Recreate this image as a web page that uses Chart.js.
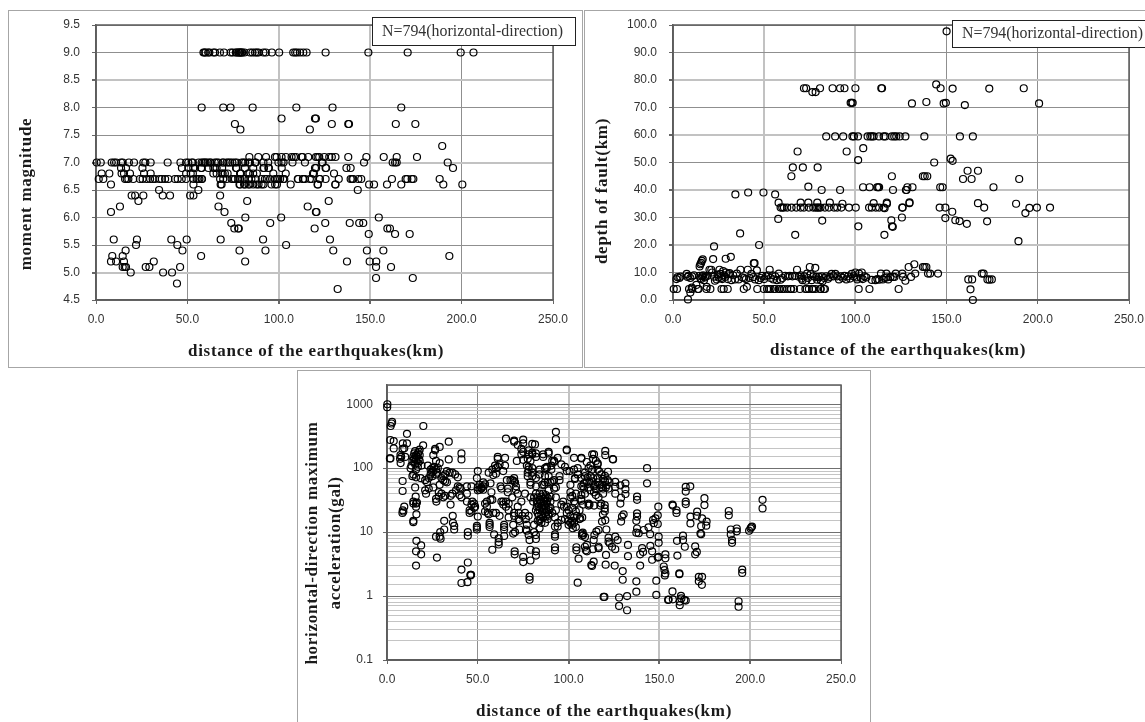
<!DOCTYPE html>
<html><head><meta charset="utf-8">
<style>
html,body{margin:0;padding:0;background:#fff;overflow:hidden;width:1145px;height:722px}
canvas{position:absolute;display:block}
.frame{position:absolute;border:1px solid #a6a6a6;box-sizing:border-box}
</style>
<script src="https://cdn.jsdelivr.net/npm/chart.js@4/dist/chart.umd.min.js"></script>
</head><body>
<div class="frame" style="left:8px;top:10px;width:575px;height:358px"></div>
<div class="frame" style="left:584px;top:10px;width:600px;height:358px"></div>
<div class="frame" style="left:297px;top:370px;width:574px;height:400px"></div>
<canvas id="c1" width="574" height="356" style="left:9px;top:11px"></canvas>
<canvas id="c2" width="560" height="356" style="left:585px;top:11px"></canvas>
<canvas id="c3" width="572" height="351" style="left:298px;top:371px"></canvas>
<script>
const xTitle = "distance of the earthquakes(km)";
const noteText = "N=794(horizontal-direction)";
const magTitle = ["moment magnitude"];
const depthTitle = ["depth of fault(km)"];
const accelTitle = ["horizontal-direction maximum","acceleration(gal)"];
const accelTicks = [0.1,1,10,100,1000];

// moment magnitude: distances (km) read for each magnitude level
const mag90=[58.8,59.4,60,61.4,62,64.2,65.1,67.8,70,73.7,74.8,76.5,77,77.9,78.3,78.8,79.2,79.7,80,81.2,84.3,85.6,87,88,88.9,91.6,92.9,96.2,100.2,107.9,109,110,111.6,113.4,115.2,125.6,149,170.5,199.5,206.5];
const mag80=[57.8,69.6,73.6,85.7,109.6,129.4,167];
const mag78=[101.5,119.8,120.3];
const mag77=[76,129,138,138.4,164,174.7];
const mag76=[79,117];
const mag73=[189.4];
const mag71=[83.9,88.8,93,97.9,98.8,101.5,103.9,107,108.3,109.4,112.5,113,116.1,120.3,121.2,122.1,124.9,127.6,129,131,138,147.9,157.4,164.5,175.6];
const mag70=[0.4,2.6,8.6,9.9,11,13.7,14.6,18,20.8,25.9,27,29.9,39.2,46.2,49.3,50.5,52.4,53,56.2,57.8,58.6,59.5,60,61,62.3,62.8,65,66,66.9,69.3,69.6,71.5,72.4,73.4,74.6,76,77,79.7,80.6,81.6,83.4,84.2,87,87.4,91.6,94.2,99.8,101.5,102.6,107.5,114.3,123.6,124,146.6,162.3,163.6,164.5,192.4];
const mag69=[13.7,16.4,25.4,47,50.5,53.2,54.2,57.5,57.8,61.5,64.2,65,66,69,76.6,76.9,81.5,86,91.6,91.9,94.3,94.6,101.6,119.8,120.4,125.6,125.9,137,139.3,195.3];
const mag68=[3.1,7.3,14,15.3,18.6,26.3,29.9,49.3,51.8,53,64.2,66,68.7,69.3,70.5,72,78.8,79.2,83.3,84,86,88,97,103.8,118.7,119.2,130.2];
const mag67=[1.5,4,15.9,16.8,17.7,20.4,24,25.5,27.7,29.6,31,32.3,34.7,36,37.8,39.6,43.2,44.7,46.9,49.3,53.3,55.1,56,56.6,57.8,58,67.9,69.6,71.5,74.2,75.2,76,77.9,78.8,80.7,81.5,83.4,85,87.4,90.7,92.4,93.4,95.2,97.9,98.9,99.7,100.7,102.4,103,110.4,110.6,113.2,113.4,114.3,117,118,122.5,122.3,125.6,132.8,139.3,140.2,140.7,143.5,145.1,161.9,169.4,170.3,172.7,173.6,188];
const mag66=[8.2,53.3,68.2,68.7,78.5,78.8,81,81.5,83.4,84,86,87.9,88.9,90.6,91.6,96,98,99,106.5,121.2,121.4,130.9,131,149.4,152.1,159.2,167,190,200.4];
const mag65=[34.5,56,143.2];
const mag64=[19.5,21.4,25.9,36.5,40.5,51.5,53.3,67.9];
const mag63=[23.2,82.7,127.3];
const mag62=[13.1,67,115.8];
const mag61=[8.2,70.3,120.3,120.6];
const mag60=[81.7,101.3,154.7];
const mag59=[74,95.3,125.4,138.8,144,146.2];
const mag58=[75.7,77.8,78.1,119.6,159.4,160.8];
const mag57=[149.2,163.6,171.6];
const mag56=[9.7,22.4,41.2,49.6,68.2,91.4,128];
const mag55=[21.9,44.5,104];
const mag54=[16.2,47.3,78.5,92.7,129.8,148.2,157.2];
const mag53=[8.9,14.6,57.5,193.3];
const mag52=[8.2,11,15.3,31.6,81.6,137.3,149.7,153.3];
const mag51=[14.6,15.7,16.4,27.2,29.2,46,153.2,161.4];
const mag50=[19,36.7,41.6];
const mag49=[153.2,173.3];
const mag48=[44.3];
const mag47=[132.2];

// depth of fault: [distance km, depth km]
const depthDeep=[[71.8,77],[73,77],[76.4,75.6],[78.2,75.6],[80.6,77],[87.5,77],[91.6,77],[94,77],[100,77],[114.2,77],[114.6,77],[144.3,78.4],[146.7,77],[153.3,76.9],[173.4,76.9],[192.3,77],[97.4,71.7],[97.9,71.7],[98.5,71.7],[131,71.5],[138.9,72],[148.4,71.5],[149.6,71.7],[200.7,71.5],[160,70.9],[150,97.7],
[84,59.5],[88.9,59.5],[93.3,59.5],[98.4,59.5],[99.2,59.5],[101.4,59.5],[106.7,59.5],[108.2,59.5],[109.1,59.5],[110,59.5],[112.9,59.5],[115.5,59.5],[116.4,59.5],[120,59.5],[121.3,59.5],[122.4,59.5],[124.3,59.5],[127.4,59.5],[137.8,59.5],[157.3,59.5],[164.4,59.5]];
const depthMid=[[68.3,54],[95.2,54],[104.3,55.2],[101.5,50.9],[143.2,50],[152.2,51.4],[153.3,50.6],[64.9,45],[65.7,48.2],[71.2,48.2],[79.3,48.2],[120,45],[137,45],[138,45],[139.4,45],[161.5,47],[167.2,47],[159,44],[163.7,44],[189.8,44],[34.2,38.4],[41.2,39.1],[49.6,39.1],[56,38.4],[74.2,41.2],[104.2,41],[107.8,41],[111.9,41],[112.5,41],[113,41],[120.6,40],[128,40],[128.5,41],[131.3,41],[146.5,41],[147.8,41],[175.7,41],[81.5,40],[91.6,40],[127.7,40],
[57.9,35.4],[70,35.4],[74.2,35.4],[79.1,35.4],[86,35.4],[92.9,35],[110,35.2],[117.3,35],[129.6,35.2],[129.7,35.5],[117.2,35.4],
[59,33.6],[59.9,33.6],[60.8,33.6],[62.6,33.6],[65,33.6],[67.6,33.6],[70,33.6],[71.8,33.6],[74.5,33.6],[76.9,33.6],[78.2,33.6],[79.1,33.6],[80,33.6],[80.9,33.6],[83.3,33.6],[85.5,33.6],[88.3,33.6],[90,33.6],[92.3,33.6],[96.5,33.6],[100.2,33.6],[107.5,33.6],[109,33.6],[111.2,33.6],[113,33.6],[115.5,33.6],[116,33.4],[125.7,33.6],[125.9,33.6],[146.2,33.6],[149.3,33.6],[153.1,32.1],[167.2,35.2],[188.1,35],[170.6,33.6],[193.2,31.6],[195.4,33.5],[199.5,33.6],[206.7,33.6],
[57.7,29.5],[81.8,28.9],[119.7,29],[125.5,30],[149.3,29.8],[154.8,29],[157.1,28.7],[161.1,27.7],[172.2,28.6],[101.6,26.8],[120.1,26.8],[120.5,26.6],[67,23.7],[115.9,23.7],[189.4,21.4],[36.8,24.2],[47.2,20],[22.5,19.5],[16.3,14.8],[22,14.9],[28.9,15],[31.7,15.7],[15.8,14.2],[15.4,13.5],[15,13],[14.6,12.2],[44.3,13.4],[44.7,13.4]];
const depthLow=[[0.4,4],[2.2,4],[8.8,4],[10.6,4],[13.6,4],[14,4],[18.3,4],[20.5,4],[26.6,4],[27.8,4],[30,4],[38.8,4],[46.2,4],[49.8,4],[51.6,4],[52.6,4],[53.5,4],[55.3,4],[55.9,4],[58,4],[58.6,4],[59.9,4],[60.8,4],[62.6,4],[64.5,4],[64.8,4],[66.3,4],[69.6,4],[72.6,4],[73.3,4],[74.5,4],[76.3,4],[76.9,4],[78.2,4],[80.8,4],[81,4],[82.7,4],[83.3,4],[101.8,4],[107.7,4],[123.7,4],[8.2,0.2],[9.5,2.7],[10.3,4.5],[164.4,0],[163.1,3.9],[161.9,7.5],[164,7.5],[172.4,7.5],[173.5,7.4],[174.8,7.5],[169.3,9.6],[170.3,9.6],[127.4,7],[117,9.6],[122.1,9.6],[125.7,9.6],[132.8,9.6],[139.8,9.6],[141,9.6],[145.3,9.6],[129.2,12],[132.3,13],[137,12],[137.9,12],[138.9,12],[119.2,8.4],[120.6,8.4],[121.4,8.4],[130.5,8.4],[126.1,8.4],[40.5,4.8],[18.5,4.8],[12.8,5.5],
[1.9,7.6],[2.5,8.3],[3.5,8],[4,8.5],[7.5,9.5],[8,8.4],[8.5,8.8],[9.5,8],[10.5,8.6],[11.5,9],[14.5,8.8],[15,8],[15.5,7.6],[16,8.7],[16.5,9],[17,7.2],[17.5,8.2],[18,8.6],[19,8.8],[20,11],[21,11],[21.5,10],[22.5,8.5],[23,7],[24,7.5],[24.5,9.2],[25,8.2],[25.5,11],[26,9.5],[26.5,8],[27,7.6],[27.5,10.5],[28,9],[28.5,8.4],[29,10],[30,7.6],[30.5,9.4],[31,9.8],[32,7.2],[33,9],[34,7.5],[35,9.6],[36,7.5],[37,11],[38,8.2],[39,8],[40,7.6],[41,11],[42,8],[43,9.5],[44,8.3],[45,7.5],[46,10.8],[47,7.2],[48,8],[49,8.8],[50,7.6],[51,8.6],[52,9],[53,11],[53.5,8],[54.5,9],[55,7.5],[56,8.6],[57,7.2],[58,9.6],[59,7.4],[60,8],[61.5,8.8],[63,8.6],[64,8.8],[65.5,8.6],[67,8.8],[68,11],[69,8.5],[70,9],[70.5,7.8],[71,7.2],[72,8.6],[73,7],[73.5,9.6],[74,8],[75,12],[75.5,9.4],[76,7.2],[77,8.6],[78,11.7],[78.5,8.4],[79,7.4],[80,8.4],[81,7.2],[81.5,8.6],[82,6.8],[83,8],[84,8.6],[85,7.7],[86,8.4],[87,9.5],[88,8.6],[89,9.5],[90,8.6],[91,7.5],[92,8.6],[93,8],[94,8.8],[95,7.5],[96,8.6],[97,7.8],[98,9.5],[99,8.6],[100,10],[100.5,8.2],[101,7.5],[102,9.6],[103,8],[103.5,10],[104,7.6],[105,8.6],[106,8.2],[109,7.3],[111,7.2],[112,7.6],[113,7.4],[114,9.6],[115,7.5],[116,8],[117,8.2],[118,7.5]];

// horizontal-direction maximum acceleration: [distance km, gal]
const accelNear=[[0.2,1000],[0.1,900],[2.8,530],[2.5,500],[2,457],[1.8,276],[3.7,265],[3.7,204],[1.6,142],[1.9,142],[7.4,160],[7.2,140],[7.5,120],[7.8,150],[8.6,63],[8.6,44],[9.5,25],[9,21],[8.5,20],[8.7,22],[8.6,200],[8.7,245],[9.5,205],[11,345],[11,245],[10,150],[20,457],[19.9,228],
[13,100],[13.5,110],[14,75],[14.5,80],[14,130],[14.5,150],[15,170],[15,125],[15,140],[15.5,115],[15.5,185],[16,160],[16,135],[16,95],[16,72],[16.5,150],[17,120],[17,170],[17,105],[17.5,140],[17.5,180],[18,130],[18,195],[18,160],[18.5,70],[19,110],
[14.5,30],[14.5,28],[14.5,15],[14.5,14.3],[15.5,50],[15.8,36],[16,28],[16,25],[16.5,29],[16.2,19],[16.2,7.3],[16,5],[16,3],[18.8,6.2],[18.8,4.5],
[21,65],[21,45],[21.5,40],[22,60],[22.5,110],[23,70],[23,48],[24,95],[24,80],[24.5,85],[25,100],[25,75],[25.5,90],[25.5,160],[25.5,50],[26,105],[26.5,200],[26.5,190],[27,130],[27,95],[27,80],[27.5,85],[27,33],[27.2,30],[27,8.5],[27.5,4],[28,100],[28.5,42],[28.5,36],[29,215],[29,120],[29,55],[29.3,10],[29,8.5],[29.5,7.9],[30,70],[30,40],[31,75],[31,65],[31,35],[32,80],[32,62],[32,37],[31.5,15],[31.5,11],[33,90],[33,60],[34,260],[34,137],[34.5,85],[35,37],[35,27],[36,85],[36,40],[36.2,18],[36.3,14],[37,12.5],[37,11],[37.5,80],[38,45],[39,72],[39,52],[40,50],[40,38],[40.5,48],[41,170],[41,137],[41,35],[41,2.6],[41,1.6],[44,52],[44,40],[44,30],[44.5,10],[44.5,8.8],[44.5,3.35],[44.3,1.65],[45.5,22],[45.5,20],[46,2.15],[46,2.1],[46.3,2.15],[46.5,52],[46.5,27],[46.5,21],[47,30],[48,28],[48,24],[48.5,25]];
const accelMid=[[49.5,70],[50,90],[50,50],[50,45],[50,17.5],[49.5,12.5],[49.5,11.8],[49.5,11],[51,55],[51,46],[52,50],[52,48],[53,60],[53,52],[53,46],[54,56],[54,28],[54,21],[55,30],[55,25],[55.5,20],[56,85],[56,19],[56.5,14],[56.5,13],[56.5,12],[57,32],[57,58],[57.5,42],[58,95],[58,32],[58,5.3],[58.5,78],[58.5,20],[59,9.2],[59.5,110],[60,100],[60,82],[60,20],[61,150],[61,140],[61,105],[62,115],[62,18],[61.5,8],[61.5,7],[61.5,6.4],[62.5,52],[63,48],[63,30],[64,90],[64,30],[64,27],[64.5,13],[64.5,12],[64.5,11],[64.5,8.7],[65,110],[65,145],[65.5,290],[65.5,30],[65.5,25],[66,65],[66.5,48],[66.5,42],[67,28],[67,22],[67,17],[68,65],[69,65],[69,35],[69.5,13],[69.5,9.5],[70,70],[70,270],[70,260],[70,63],[70.5,60],[70,20],[70,18],[70.5,10],[70.3,5],[70.3,4.5],[71,52],[71,46],[71.5,130],[72,230],[72,40],[72,25],[72.5,20],[72.5,16],[73,15],[73,11],[74,200],[74,165],[74,30],[74.5,18],[75,280],[75,245],[75,180],[75,135],[75,4.1],[75,3.4],[76,40],[76,20],[76.5,16],[76.5,11],[77,110],[77.5,140],[77.5,85],[77.5,75],[77,13],[77,10.5],[78,190],[78,165],[78,105],[78,95],[78,18],[78,9],[78.5,7.5],[78.5,2],[78.5,1.8],[79,130],[79,60],[79,55],[79,35],[79,3.6],[79,5.3],[80,240],[80,175],[80,165],[80,100],[80,85],[80,75],[80.5,30],[81,35],[81,13],[81,10],[81.5,235],[82,170],[82,150],[82,70],[82,52],[82,40],[82.5,25],[82,9],[82,7.8],[82,5],[82,4.3],
[82,22],[82.5,30],[83,20],[83,28],[83,35],[83,15],[83.5,25],[83.5,18],[84,32],[84,22],[84,40],[84,11.5],[84.5,28],[84.5,16],[85,24],[85,19],[85,30],[85,36],[85.5,26],[85.5,21],[86,33],[86,17],[86,28],[86,40],[86.5,23],[86.5,30],[87,20],[87,26],[87,14],[87,35],[87.5,38],[87.5,18],[87.5,24],[88,31],[88,21],[88,28],[88.5,16],[88.5,34],[89,25],[89,19],[89,22],[90,30],[90,24],[90,36],
[84,95],[84,80],[84,15],[85,14],[85.5,55],[86,165],[86,150],[86.5,55],[87,100],[87,60],[87,75],[88,105],[88,100],[88.5,60],[89,180],[89,170],[89,75],[89,45],[89,18],[90,60],[90.5,110],[90.5,95],[91,130],[91,62],[91,20],[92,125],[92,130],[92,65],[92,48],[92.5,17],[92.5,9.2],[92.5,8.5],[92.5,12.2],[92.5,5.8],[92.5,5.2],[93,370],[93,285],[93,50],[93,35],[93,22],[94,145],[94,14],[94,12.2],[95,75],[95,65],[96,115],[96,27],[96,15.5],[97,30],[97.5,25],[98,105],[98,16],[99,195],[99,190],[99,90],[99,25],[99,20],[100,22],[100,15],[100,13]];
const accelFar=[[100.5,90],[101,55],[101,42],[101,35],[101,18],[101,14],[102,37],[102,24],[102,15],[102,13],[102.3,11.5],[103,145],[103,95],[103,30],[103,17],[103,14],[103.5,68],[103.5,28],[103.5,70],[104,40],[104,21],[104.5,18],[104,12],[104.3,5.8],[104.3,5.2],[105,100],[105.5,3.85],[105,1.62],[106,22],[106,16],[107,145],[107,142],[107,52],[107,33],[107,31],[107.5,17],[107.8,9.8],[108,9],[108,52],[108.5,58],[108.5,48],[109,85],[109,75],[109,8.4],[109,5.9],[109.5,5.2],
[105,80],[107,70],[110,62],[110.5,72],[111,50],[111.5,60],[112,45],[112,75],[113,62],[113.5,70],[114,52],[114,42],[114.5,56],[115,47],[115,38],[116,60],[116,70],[116.5,35],[117,55],[118,50],[110,125],[111,100],[112,110],[113,165],[113.5,140],[113,95],[114,165],[115,130],[116,115],[116,95],[117,88],[118,80],[118.5,55],[119,68],[119,48],[120,62],[120.5,50],[120,76],[121,54],[121.5,65],[122,48],[122.5,60],[118,28],[119,40],[111,28],[108,27],[109,40],[107,38],
[120.2,186],[120.2,160],[124.3,139],[124.5,137],[116,119],[121.7,88],[143.2,100],[143.2,58],[164.5,51],[167,52],[164.5,43],[174.8,34],[174.8,26.5],[164.5,30],[164.5,27.5],[157.2,27],[157.4,26],[159.4,22],[159.4,20],[149.4,25],[137.7,36],[137.7,32],[128.5,28],[128.9,34.5],[125.7,40],[131.3,58],[131.3,47],[131.3,39.5],[125.7,61],[125.7,51],[128.5,54],[119.9,26.5],[119.9,23.5],[119.9,21],[118.9,19],[117.5,26],[114,26],[111,26],[111.5,27],[130.3,19],[129.4,17.5],[128.9,14.6],[120.2,15.4],[118.4,14.6],[120.8,11],[137.7,19.7],[137.7,17.5],[137.3,15],[137.7,11.4],[137.3,9.8],[138.6,9.6],[141.4,10.8],[144,11.9],[144.9,9.3],[149.1,18.3],[147.8,16.4],[149.1,13.4],[149.6,8.5],[149.6,6.8],[146.5,15.5],[146.9,13.8],[167.1,17.5],[167.1,13.7],[170.8,20.9],[170.6,18],[173.5,16.4],[176,14.6],[175.8,12.6],[173,12.4],[172.6,9.5],[173,9.3],[188.2,21.4],[188.2,18.3],[189.3,11],[189.3,9.2],[190,7.5],[190,6.8],[192.6,11.4],[192.6,10.3],[199.4,10.5],[200.2,11.4],[201,12.2],[200.6,11.9],[206.8,32],[206.8,23.5],[195.6,2.6],[195.6,2.3],[193.6,0.83],[193.6,0.68],[163,8.8],[163,7.5],[159.7,7.3],[164,5.9],[169.7,6],[169.7,4.5],[170.6,4.9],[159.9,4.3],[161,2.26],[161,2.2],[171.7,2],[173.5,2],[171.7,1.7],[173.4,1.5],[153.3,4.5],[153.3,3.9],[149.1,4],[149.6,4.1],[146,3.7],[146,5],[145,6.1],[140.5,5.6],[139.4,4.5],[139.4,3],[141,4.9],[132.7,6.3],[132.7,4.2],[129.8,2.46],[129.8,1.8],[137.3,1.7],[148.3,1.74],[152.4,2.9],[152.8,2.55],[153.3,2.26],[153,2.1],[137.3,1.17],[148.3,1.04],[157.2,1.18],[154.8,0.87],[155.1,0.88],[157.4,0.89],[161.2,0.72],[161.2,0.82],[161.9,1.01],[162.1,0.92],[163.7,0.87],[164.5,0.85],[132.2,1],[127.8,0.95],[127.8,0.7],[132.2,0.6],[119.3,0.97],[119.7,0.97],[112.5,3.05],[112.9,2.95],[113.8,3.45],[120.4,3.1],[125.4,3],[120.6,4.4],[110.1,6.3],[110.1,5],[113.4,5.4],[116.5,5.9],[116.5,5.6],[122,8.2],[122,7.1],[125.7,8.5],[127,7.5],[123.9,5.9],[125.7,5.4],[122.6,6.7],[113.8,7.5],[114.2,9],[116.5,10.8],[115.3,10.2],[107.4,9.5],[107.4,8.8],[106.4,16.4]];

const magLevels=[[9,mag90],[8,mag80],[7.8,mag78],[7.7,mag77],[7.6,mag76],[7.3,mag73],[7.1,mag71],[7,mag70],[6.9,mag69],[6.8,mag68],[6.7,mag67],[6.6,mag66],[6.5,mag65],[6.4,mag64],[6.3,mag63],[6.2,mag62],[6.1,mag61],[6,mag60],[5.9,mag59],[5.8,mag58],[5.7,mag57],[5.6,mag56],[5.5,mag55],[5.4,mag54],[5.3,mag53],[5.2,mag52],[5.1,mag51],[5,mag50],[4.9,mag49],[4.8,mag48],[4.7,mag47]];
const magPoints=magLevels.flatMap(([m,ds])=>ds.map(d=>({x:d,y:m})));
const toXY=a=>a.map(([x,y])=>({x,y}));

const TICK_FONT={family:'"Liberation Sans"',size:12};
const TITLE_FONT='bold 17px "Liberation Serif"';
const TITLE_TRACK='0.72px';
const FRAME='#5c5c5c';
const LINE_DARK='#8f8f8f', LINE_LIGHT='#c2c2c2';

function annot(o){return {id:'annot',
  beforeDatasetsDraw(ch){const a=ch.chartArea,c=ch.ctx;c.save();c.strokeStyle=FRAME;c.lineWidth=1.5;
    c.strokeRect(a.left,a.top,a.right-a.left,a.bottom-a.top);c.restore();},
  afterDraw(ch){const c=ch.ctx;c.save();
    c.fillStyle='#1a1a1a';c.font=TITLE_FONT;c.letterSpacing=TITLE_TRACK;c.textAlign='center';c.textBaseline='middle';
    c.fillText(xTitle,o.xt[0],o.xt[1]);
    o.yt.forEach(([t,x,y])=>{c.save();c.translate(x,y);c.rotate(-Math.PI/2);c.fillText(t,0,0);c.restore();});
    c.letterSpacing='0px';
    if(o.box){const b=o.box;c.fillStyle='#fff';c.fillRect(b[0],b[1],b[2],b[3]);c.strokeStyle='#222';c.lineWidth=1;c.strokeRect(b[0]+.5,b[1]+.5,b[2]-1,b[3]-1);
      c.fillStyle='#333';c.font='15.9px "Liberation Serif"';c.textAlign='left';c.fillText(noteText,b[0]+10,b[1]+b[3]/2);}
    c.restore();}};}

const gridOf=light=>({
  color:c=>c.tick&&light.includes(c.tick.value)?LINE_LIGHT:LINE_DARK,
  lineWidth:c=>c.tick&&light.includes(c.tick.value)?2:1,
  tickLength:4,tickColor:'#666'});

function make(id,datasets,lightX,yOpt,area,o){
  const cv=document.getElementById(id);
  const xs={type:'linear',min:0,max:250,
    ticks:{stepSize:50,font:TICK_FONT,color:'#333',padding:8,maxRotation:0,callback:v=>v.toFixed(1)},
    grid:gridOf(lightX),border:{color:FRAME,width:1.5},
    afterFit(s){s.height=cv.height-area.bottom;s.paddingLeft=0;s.paddingRight=0;}};
  const ys=Object.assign({border:{color:FRAME,width:1.5},afterFit(s){s.width=area.left;s.paddingTop=0;s.paddingBottom=0;}},yOpt);
  return new Chart(cv,{type:'scatter',
    data:{datasets:datasets.map(d=>({data:d,showLine:false,pointStyle:'circle',pointRadius:3.5,pointHoverRadius:3.5,pointBorderWidth:1.2,pointBorderColor:'#000',pointBackgroundColor:'rgba(0,0,0,0)',clip:false}))},
    options:{responsive:false,animation:false,events:[],
      layout:{padding:{left:0,top:area.top,right:cv.width-area.right,bottom:0}},
      plugins:{legend:{display:false},tooltip:{enabled:false}},
      scales:{x:xs,y:ys}},
    plugins:[annot(o)]});
}

make('c1',[magPoints],[100,150],{type:'linear',min:4.5,max:9.5,
  ticks:{stepSize:0.5,font:TICK_FONT,color:'#333',padding:12,callback:v=>v.toFixed(1)},
  grid:gridOf([8.5,7,5])},
  {left:87,right:544,top:14,bottom:289},
  {xt:[307,341],yt:[[magTitle[0],18,183]],box:[363,6,204,29]});

make('c2',[toXY(depthDeep),toXY(depthMid),toXY(depthLow)],[50,100],{type:'linear',min:0,max:100,
  ticks:{stepSize:10,font:TICK_FONT,color:'#333',padding:12,callback:v=>v.toFixed(1)},
  grid:gridOf([80,60,40,20])},
  {left:88,right:544,top:14,bottom:289},
  {xt:[313,340],yt:[[depthTitle[0],18,180]],box:[367,9,210,28]});

const isDecade=v=>accelTicks.includes(+v);
make('c3',[toXY(accelNear),toXY(accelMid),toXY(accelFar)],[100,150,200],{type:'logarithmic',min:0.1,max:2000,
  ticks:{autoSkip:false,font:TICK_FONT,color:'#333',padding:10,callback:v=>isDecade(v)?String(v):''},
  grid:{color:c=>c.tick&&isDecade(c.tick.value)?'#707070':'#c4c4c4',lineWidth:1,tickLength:4,tickColor:c=>c.tick&&isDecade(c.tick.value)?'#666':'rgba(0,0,0,0)'}},
  {left:89,right:543,top:14,bottom:289},
  {xt:[306,341],yt:[[accelTitle[0],15,172],[accelTitle[1],38,172]]});
</script>
</body></html>
